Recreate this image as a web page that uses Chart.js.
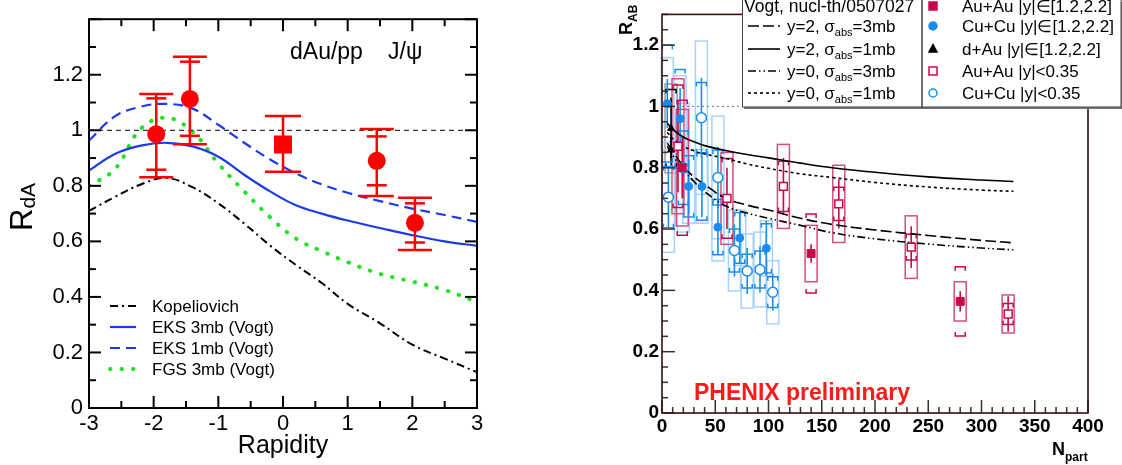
<!DOCTYPE html>
<html>
<head>
<meta charset="utf-8">
<script src="https://cdn.jsdelivr.net/npm/chart.js@4.4.0/dist/chart.umd.min.js"></script>
<style>
body { margin: 0; background: #fff; width: 1122px; height: 465px; overflow: hidden; position: relative; }
#left { position: absolute; left: 0; top: 0; }
#right { position: absolute; left: 560px; top: 0; }
</style>
</head>
<body>
<canvas id="left" width="560" height="465"></canvas>
<canvas id="right" width="562" height="465"></canvas>
<script>
// ---------- left panel : dAu/pp J/psi vs rapidity ----------
const rapGrid = [-3, -2.6, -2.2, -1.8, -1.4, -1, -0.6, -0.2, 0.2, 0.6, 1, 1.5, 2, 2.5, 3];
const kopeliovich = [0.71, 0.76, 0.805, 0.828, 0.795, 0.737, 0.664, 0.585, 0.515, 0.45, 0.375, 0.305, 0.228, 0.178, 0.129];
const eks3mb = [0.855, 0.915, 0.945, 0.955, 0.942, 0.905, 0.84, 0.78, 0.73, 0.70, 0.675, 0.648, 0.622, 0.60, 0.584];
const eks1mb = [0.963, 1.05, 1.085, 1.095, 1.078, 1.02, 0.955, 0.895, 0.845, 0.805, 0.775, 0.745, 0.718, 0.695, 0.67];
const fgs3mb = [0.80, 0.86, 1.005, 1.045, 0.995, 0.88, 0.78, 0.687, 0.61, 0.565, 0.525, 0.483, 0.455, 0.425, 0.382];
const leftLabels = ['Kopeliovich', 'EKS 3mb (Vogt)', 'EKS 1mb (Vogt)', 'FGS 3mb (Vogt)'];

const rdaRap = [-1.96, -1.44, 0, 1.45, 2.04];
const rdaVal = [0.986, 1.113, 0.949, 0.89, 0.667];
const rdaHiOut = [1.131, 1.265, 1.051, 1.005, 0.757];
const rdaLoOut = [0.831, 0.95, 0.851, 0.763, 0.569];
const rdaHiIn = [1.115, 1.247, null, 0.978, 0.737];
const rdaLoIn = [0.858, 0.98, null, 0.802, 0.596];
const rdaStyle = ['circle', 'circle', 'rect', 'circle', 'circle'];

// ---------- right panel : R_AB vs Npart ----------
const npGrid = [5, 10, 20, 30, 40, 60, 80, 100, 130, 160, 200, 250, 300, 330];
const vogtY2s3 = [0.88, 0.855, 0.805, 0.77, 0.745, 0.70, 0.678, 0.662, 0.635, 0.615, 0.597, 0.579, 0.563, 0.555];
const vogtY2s1 = [0.945, 0.925, 0.90, 0.885, 0.872, 0.856, 0.843, 0.832, 0.815, 0.80, 0.785, 0.77, 0.76, 0.755];
const vogtY0s3 = [0.87, 0.84, 0.795, 0.755, 0.722, 0.675, 0.652, 0.635, 0.612, 0.588, 0.568, 0.551, 0.538, 0.532];
const vogtY0s1 = [0.915, 0.895, 0.87, 0.855, 0.845, 0.83, 0.812, 0.798, 0.78, 0.768, 0.752, 0.737, 0.727, 0.723];
const vogtRap = ['2', '2', '0', '0'];
const vogtSigma = ['3mb', '1mb', '3mb', '1mb'];

const auFwdNp = [19, 140, 280];
const auFwdR = [0.80, 0.52, 0.364];
const auFwdStat = [0.10, 0.03, 0.033];
const auFwdBox = [0.19, 0.092, 0.064];
const auFwdBrk = [0.22, 0.129, 0.113];

const auMidNp = [15, 61, 114, 166, 234, 325];
const auMidR = [0.87, 0.70, 0.739, 0.682, 0.541, 0.323];
const auMidStat = [0.15, 0.10, 0.093, 0.08, 0.068, 0.058];
const auMidBox = [0.22, 0.15, 0.137, 0.126, 0.102, 0.062];
const auMidBrk = [0.20, 0.13, 0.082, 0.054, 0.042, 0.034];

const cuFwdNp = [5, 17, 25, 37.5, 52.5, 73, 98];
const cuFwdR = [1.009, 0.96, 0.739, 0.739, 0.606, 0.571, 0.537];
const cuFwdStat = [0.08, 0.10, 0.09, 0.10, 0.09, 0.085, 0.09];
const cuFwdBox = [0.15, 0.14, 0.12, 0.12, 0.11, 0.09, 0.09];
const cuFwdBrk = [0.19, 0.16, 0.10, 0.11, 0.09, 0.083, 0.08];

const cuMidNp = [6, 20, 37, 52.5, 68, 80, 92, 104];
const cuMidR = [0.704, 0.80, 0.963, 0.768, 0.53, 0.463, 0.468, 0.394];
const cuMidStat = [0.10, 0.10, 0.13, 0.10, 0.085, 0.075, 0.075, 0.06];
const cuMidBox = [0.18, 0.21, 0.25, 0.20, 0.132, 0.121, 0.122, 0.103];
const cuMidBrk = [0.10, 0.12, 0.115, 0.09, 0.07, 0.055, 0.06, 0.05];

const dAuNp = [8.5, 8.5];
const dAuR = [0.928, 0.858];
const dAuStat = [0.10, 0.05];
const dAuBox = [0.145, 0];
const dAuBrk = [0.127, 0];

const phenixLabels = ['Au+Au |y|\u2208[1.2,2.2]', 'Cu+Cu |y|\u2208[1.2,2.2]', 'd+Au |y|\u2208[1.2,2.2]', 'Au+Au |y|<0.35', 'Cu+Cu |y|<0.35'];

const RED = '#ff0000';
const BLUE = '#1c3ae8';
const GREEN = '#22e022';
const AU = '#c8084a';
const AU_BOX = '#d4507a';
const CU = '#1a8cf0';
const CU_BOX = '#a6d2ff';
const FRAME = '#3a0c0c';
const FONT = '"Liberation Sans", Arial, sans-serif';

Chart.defaults.font.family = FONT;
Chart.defaults.color = '#000';

const pts = (xs, ys) => xs.map((x, i) => ({ x: x, y: ys[i] }));

function seg(ctx, x1, y1, x2, y2) {
    ctx.beginPath();
    ctx.moveTo(x1, y1);
    ctx.lineTo(x2, y2);
    ctx.stroke();
}

// inward tick marks on the frame
function inTicks(ctx, chart, o) {
    const a = chart.chartArea, xs = chart.scales.x, ys = chart.scales.y;
    ctx.save();
    ctx.strokeStyle = o.color;
    ctx.lineWidth = o.width;
    const nx = Math.round((xs.max - xs.min) / o.xMinor);
    for (let i = 0; i <= nx; i++) {
        const v = xs.min + i * o.xMinor;
        const q = v / o.xMajor;
        const L = Math.abs(q - Math.round(q)) < 1e-6 ? o.major : o.minor;
        const p = xs.getPixelForValue(v);
        seg(ctx, p, a.bottom, p, a.bottom - L);
        if (o.mirror) seg(ctx, p, a.top, p, a.top + L);
    }
    const ny = Math.round((ys.max - ys.min) / o.yMinor);
    for (let i = 0; i <= ny; i++) {
        const v = ys.min + i * o.yMinor;
        const q = v / o.yMajor;
        const L = Math.abs(q - Math.round(q)) < 1e-6 ? o.major : o.minor;
        const p = ys.getPixelForValue(v);
        seg(ctx, a.left, p, a.left + L, p);
        if (o.mirror) seg(ctx, a.right, p, a.right - L, p);
    }
    ctx.restore();
}

const leftDecor = {
    id: 'leftDecor',
    afterDatasetsDraw(chart) {
        const ctx = chart.ctx, xs = chart.scales.x, ys = chart.scales.y;
        ctx.save();
        ctx.strokeStyle = RED;
        ctx.lineWidth = 2.5;
        rdaRap.forEach((r, i) => {
            const px = xs.getPixelForValue(r);
            const wOut = rdaStyle[i] === 'rect' ? 18 : 17;
            seg(ctx, px, ys.getPixelForValue(rdaHiOut[i]), px, ys.getPixelForValue(rdaLoOut[i]));
            [rdaHiOut[i], rdaLoOut[i]].forEach(v => seg(ctx, px - wOut, ys.getPixelForValue(v), px + wOut, ys.getPixelForValue(v)));
            [rdaHiIn[i], rdaLoIn[i]].forEach(v => {
                if (v !== null) seg(ctx, px - 10, ys.getPixelForValue(v), px + 10, ys.getPixelForValue(v));
            });
        });
        ctx.restore();
    },
    afterDraw(chart) {
        const ctx = chart.ctx, a = chart.chartArea;
        inTicks(ctx, chart, { xMinor: 0.5, xMajor: 1, yMinor: 0.1, yMajor: 0.2, major: 12, minor: 7, width: 2, color: '#000', mirror: true });
        ctx.save();
        ctx.strokeStyle = '#000';
        ctx.lineWidth = 2;
        ctx.strokeRect(a.left, a.top, a.right - a.left, a.bottom - a.top);

        // axis titles
        ctx.fillStyle = '#000';
        ctx.font = '25px ' + FONT;
        ctx.textAlign = 'center';
        ctx.fillText('Rapidity', (a.left + a.right) / 2, 453);
        ctx.textAlign = 'left';
        ctx.save();
        ctx.translate(32, 231);
        ctx.rotate(-Math.PI / 2);
        ctx.font = '31px ' + FONT;
        ctx.fillText('R', 0, 0);
        const wR = ctx.measureText('R').width;
        ctx.font = '21px ' + FONT;
        ctx.fillText('dA', wR, 3);
        ctx.restore();

        // label
        ctx.font = '23px ' + FONT;
        ctx.fillText('dAu/pp', 290, 59);
        ctx.fillText('J/\u03c8', 388, 59);

        // legend
        const curves = chart.data.datasets.filter(d => d.label);
        ctx.font = '17px ' + FONT;
        curves.forEach((d, i) => {
            const y = 306 + i * 21;
            ctx.strokeStyle = d.borderColor;
            ctx.lineWidth = d.borderWidth;
            ctx.lineCap = d.borderCapStyle || 'butt';
            ctx.setLineDash(d.borderDash || []);
            seg(ctx, 110, y, 136, y);
            ctx.setLineDash([]);
            ctx.fillStyle = '#000';
            ctx.fillText(d.label, 152, y + 6);
        });
        ctx.restore();
    }
};

new Chart(document.getElementById('left'), {
    data: {
        datasets: [
            {
                type: 'scatter', data: pts(rdaRap, rdaVal), pointStyle: rdaStyle,
                pointRadius: rdaStyle.map(s => s === 'rect' ? 12.7 : 9),
                backgroundColor: RED, borderColor: RED, borderWidth: 0
            },
            { type: 'line', data: pts([-3, 3], [1, 1]), borderColor: '#000', borderWidth: 1, borderDash: [5, 4], pointRadius: 0 },
            { type: 'line', label: leftLabels[0], data: pts(rapGrid, kopeliovich), borderColor: '#000', borderWidth: 2, borderDash: [8, 4, 2, 4], pointRadius: 0, tension: 0.4 },
            { type: 'line', label: leftLabels[1], data: pts(rapGrid, eks3mb), borderColor: BLUE, borderWidth: 2.2, pointRadius: 0, tension: 0.4 },
            { type: 'line', label: leftLabels[2], data: pts(rapGrid, eks1mb), borderColor: BLUE, borderWidth: 2.2, borderDash: [10, 6], pointRadius: 0, tension: 0.4 },
            { type: 'line', label: leftLabels[3], data: pts(rapGrid, fgs3mb), borderColor: GREEN, borderWidth: 4, borderDash: [0.5, 11], borderCapStyle: 'round', pointRadius: 0, tension: 0.4 }
        ]
    },
    options: {
        responsive: false,
        animation: false,
        layout: { padding: { left: 0, top: 11, right: 83, bottom: 0 } },
        plugins: { legend: { display: false }, tooltip: { enabled: false } },
        scales: {
            x: {
                type: 'linear', min: -3, max: 3,
                grid: { display: false, drawTicks: false }, border: { display: false },
                ticks: { stepSize: 1, font: { size: 22 }, color: '#000', padding: 3 },
                afterFit: s => { s.height = 57; }
            },
            y: {
                type: 'linear', min: 0, max: 1.4,
                grid: { display: false, drawTicks: false }, border: { display: false },
                ticks: {
                    stepSize: 0.2, font: { size: 22 }, color: '#000', padding: 6,
                    callback: v => v > 1.3 ? '' : String(Math.round(v * 10) / 10)
                },
                afterFit: s => { s.width = 89; }
            }
        }
    },
    plugins: [leftDecor]
});

// ---------- right panel ----------
const rightSets = [
    { np: dAuNp, r: dAuR, stat: dAuStat, box: dAuBox, brk: dAuBrk, line: '#000', boxColor: '#9a9a9a' },
    { np: cuMidNp, r: cuMidR, stat: cuMidStat, box: cuMidBox, brk: cuMidBrk, line: CU, boxColor: CU_BOX },
    { np: cuFwdNp, r: cuFwdR, stat: cuFwdStat, box: cuFwdBox, brk: cuFwdBrk, line: CU, boxColor: CU_BOX },
    { np: auMidNp, r: auMidR, stat: auMidStat, box: auMidBox, brk: auMidBrk, line: AU, boxColor: AU_BOX },
    { np: auFwdNp, r: auFwdR, stat: auFwdStat, box: auFwdBox, brk: auFwdBrk, line: AU, boxColor: AU_BOX }
];

const rightDecor = {
    id: 'rightDecor',
    beforeDatasetsDraw(chart) {
        const ctx = chart.ctx, xs = chart.scales.x, ys = chart.scales.y;
        const Y = v => ys.getPixelForValue(v);
        ctx.save();
        // systematic boxes
        ctx.lineWidth = 1.5;
        rightSets.forEach(s => {
            ctx.strokeStyle = s.boxColor;
            s.np.forEach((n, i) => {
                if (!s.box[i]) return;
                const px = xs.getPixelForValue(n);
                const t = Y(s.r[i] + s.box[i]), b = Y(s.r[i] - s.box[i]);
                ctx.strokeRect(px - 6, t, 12, b - t);
            });
        });
        // brackets and stat bars
        rightSets.forEach(s => {
            ctx.strokeStyle = s.line;
            s.np.forEach((n, i) => {
                const px = xs.getPixelForValue(n);
                if (s.brk[i]) {
                    const t = Y(s.r[i] + s.brk[i]), b = Y(s.r[i] - s.brk[i]);
                    ctx.lineWidth = 1.5;
                    ctx.beginPath();
                    ctx.moveTo(px - 5, t + 4); ctx.lineTo(px - 5, t); ctx.lineTo(px + 5, t); ctx.lineTo(px + 5, t + 4);
                    ctx.moveTo(px - 5, b - 4); ctx.lineTo(px - 5, b); ctx.lineTo(px + 5, b); ctx.lineTo(px + 5, b - 4);
                    ctx.stroke();
                }
                ctx.lineWidth = 1.6;
                seg(ctx, px, Y(s.r[i] + s.stat[i]), px, Y(s.r[i] - s.stat[i]));
            });
        });
        ctx.restore();
    },
    afterDraw(chart) {
        const ctx = chart.ctx, a = chart.chartArea;
        inTicks(ctx, chart, { xMinor: 10, xMajor: 50, yMinor: 0.05, yMajor: 0.2, major: 13, minor: 6, width: 1.5, color: '#333', mirror: false });
        ctx.save();
        ctx.strokeStyle = FRAME;
        ctx.lineWidth = 1.6;
        ctx.strokeRect(a.left, a.top, a.right - a.left, a.bottom - a.top);

        // axis titles
        ctx.fillStyle = '#000';
        ctx.font = 'bold 18px ' + FONT;
        ctx.fillText('N', 492, 455);
        ctx.font = 'bold 12px ' + FONT;
        ctx.fillText('part', 505, 461);
        ctx.save();
        ctx.translate(72, 35);
        ctx.rotate(-Math.PI / 2);
        ctx.font = 'bold 18px ' + FONT;
        ctx.fillText('R', 0, 0);
        const wR = ctx.measureText('R').width;
        ctx.font = 'bold 12px ' + FONT;
        ctx.fillText('AB', wR, 5);
        ctx.restore();

        ctx.fillStyle = '#ff1a1a';
        ctx.font = 'bold 23px ' + FONT;
        ctx.fillText('PHENIX preliminary', 134, 400);

        // theory legend box
        const rowY = [6, 26, 49, 71, 93];
        ctx.fillStyle = '#777';
        ctx.fillRect(184, 2, 180, 107);
        ctx.fillRect(364, 2, 198, 107);
        ctx.fillStyle = '#fff';
        ctx.fillRect(182.5, -2, 179.5, 109);
        ctx.fillRect(362, -2, 199, 109);
        ctx.strokeStyle = '#444';
        ctx.lineWidth = 1;
        ctx.strokeRect(182.5, -2, 179.5, 109);
        ctx.strokeRect(362, -2, 199, 109);

        ctx.fillStyle = '#000';
        ctx.font = '17.5px ' + FONT;
        ctx.fillText('Vogt, nucl-th/0507027', 184, rowY[0] + 6);
        const curves = chart.data.datasets.filter(d => d.label);
        curves.forEach((d, i) => {
            const y = rowY[i + 1];
            ctx.strokeStyle = d.borderColor;
            ctx.lineWidth = d.borderWidth;
            ctx.setLineDash(d.borderDash || []);
            seg(ctx, 188, y, 220, y);
            ctx.setLineDash([]);
            ctx.fillStyle = '#000';
            let x = 227;
            ctx.font = '17px ' + FONT;
            const t1 = 'y=' + vogtRap[i] + ', \u03c3';
            ctx.fillText(t1, x, y + 6);
            x += ctx.measureText(t1).width;
            ctx.font = '11px ' + FONT;
            ctx.fillText('abs', x, y + 10);
            x += ctx.measureText('abs').width;
            ctx.font = '17px ' + FONT;
            ctx.fillText('=' + vogtSigma[i], x, y + 6);
        });

        // data legend box
        const mk = chart.data.datasets.filter(d => d.legendIndex !== undefined);
        mk.forEach(d => {
            const y = rowY[d.legendIndex];
            const x = 373;
            ctx.fillStyle = d.backgroundColor;
            ctx.strokeStyle = d.borderColor;
            ctx.lineWidth = 1.5;
            ctx.beginPath();
            if (d.pointStyle === 'rect') ctx.rect(x - 4, y - 4, 8, 8);
            else if (d.pointStyle === 'circle') ctx.arc(x, y, 4, 0, Math.PI * 2);
            else { ctx.moveTo(x, y - 4.5); ctx.lineTo(x + 4, y + 3); ctx.lineTo(x - 4, y + 3); ctx.closePath(); }
            ctx.fill();
            ctx.stroke();
            ctx.fillStyle = '#000';
            ctx.font = '17px ' + FONT;
            ctx.fillText(phenixLabels[d.legendIndex], 402, y + 6);
        });
        ctx.restore();
    }
};

new Chart(document.getElementById('right'), {
    data: {
        datasets: [
            { type: 'scatter', legendIndex: 0, data: pts(auFwdNp, auFwdR), pointStyle: 'rect', pointRadius: 5.6, backgroundColor: AU, borderColor: AU, borderWidth: 1 },
            { type: 'scatter', legendIndex: 3, data: pts(auMidNp, auMidR), pointStyle: 'rect', pointRadius: 5.6, backgroundColor: '#fff', borderColor: AU, borderWidth: 1.5 },
            { type: 'scatter', legendIndex: 1, data: pts(cuFwdNp, cuFwdR), pointStyle: 'circle', pointRadius: 4, backgroundColor: CU, borderColor: CU, borderWidth: 1 },
            { type: 'scatter', legendIndex: 4, data: pts(cuMidNp, cuMidR), pointStyle: 'circle', pointRadius: 5, backgroundColor: '#fff', borderColor: CU, borderWidth: 1.5 },
            { type: 'scatter', legendIndex: 2, data: pts(dAuNp, dAuR), pointStyle: 'triangle', pointRadius: 4, backgroundColor: '#000', borderColor: '#000', borderWidth: 1 },
            { type: 'line', data: pts([0, 400], [1, 1]), borderColor: '#777', borderWidth: 1, borderDash: [2, 3], pointRadius: 0 },
            { type: 'line', label: 'y2s3', data: pts(npGrid, vogtY2s3), borderColor: '#000', borderWidth: 1.6, borderDash: [11, 4], pointRadius: 0, tension: 0.4 },
            { type: 'line', label: 'y2s1', data: pts(npGrid, vogtY2s1), borderColor: '#000', borderWidth: 1.6, pointRadius: 0, tension: 0.4 },
            { type: 'line', label: 'y0s3', data: pts(npGrid, vogtY0s3), borderColor: '#000', borderWidth: 1.6, borderDash: [8, 3, 1.5, 3, 1.5, 3], pointRadius: 0, tension: 0.4 },
            { type: 'line', label: 'y0s1', data: pts(npGrid, vogtY0s1), borderColor: '#000', borderWidth: 1.6, borderDash: [3, 3], pointRadius: 0, tension: 0.4 }
        ]
    },
    options: {
        responsive: false,
        animation: false,
        layout: { padding: { left: 0, top: 6, right: 34, bottom: 0 } },
        plugins: { legend: { display: false }, tooltip: { enabled: false } },
        scales: {
            x: {
                type: 'linear', min: 0, max: 400,
                grid: { display: false, drawTicks: false }, border: { display: false },
                ticks: { stepSize: 50, font: { size: 19, weight: 'bold' }, color: '#000', padding: 2 },
                afterFit: s => { s.height = 52; }
            },
            y: {
                type: 'linear', min: 0, max: 1.3,
                grid: { display: false, drawTicks: false }, border: { display: false },
                ticks: {
                    stepSize: 0.2, includeBounds: false, font: { size: 19, weight: 'bold' }, color: '#000', padding: 3,
                    callback: v => String(Math.round(v * 10) / 10)
                },
                afterFit: s => { s.width = 102; }
            }
        }
    },
    plugins: [rightDecor]
});
</script>
</body>
</html>
